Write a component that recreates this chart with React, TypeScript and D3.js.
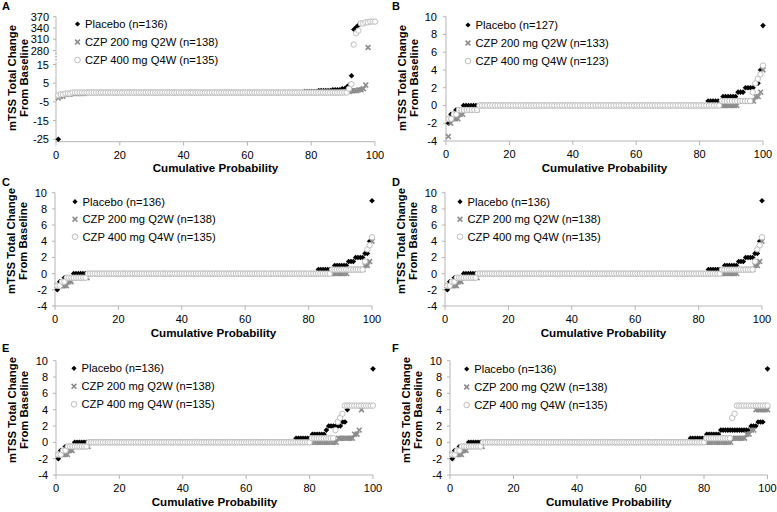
import React from 'react';
import * as d3 from 'd3';

type Run = [number | null, number];

const seriesLabels = ['Placebo', 'CZP 200 mg Q2W', 'CZP 400 mg Q4W'];
const panelIds = ['A', 'B', 'C', 'D', 'E', 'F'];
const panelNs = [
  [136, 138, 135],
  [127, 133, 123],
  [136, 138, 135],
  [136, 138, 135],
  [136, 138, 135],
  [136, 138, 135],
];
const xTicks = [0, 20, 40, 60, 80, 100];
const yTicksStd = [-4, -2, 0, 2, 4, 6, 8, 10];
const yTicksA = [-25, -15, -5, 5, 15, 280, 310, 340, 370];
const xTitle = 'Cumulative Probability';
const yTitle = ['mTSS Total Change', 'From Baseline'];

// run-length data: [mTSS change value, number of patients]; null = not plotted
const aPlacebo: Run[] = [[-25, 1], [-1, 2], [-0.5, 4], [0, 98], [0.5, 6], [1, 6], [1.5, 4], [2, 2], [3, 1], [4, 1], [9, 1], [336, 1], [342, 1], [348, 1], [352, 1], [null, 6]];
const aCzp200: Run[] = [[-3, 1], [-2, 2], [-1, 3], [-0.5, 6], [0, 111], [0.5, 4], [1, 3], [1.5, 2], [2, 1], [4, 1], [288, 1], [null, 3]];
const aCzp400: Run[] = [[-1.5, 1], [-1, 2], [-0.5, 3], [0, 117], [2, 1], [4.5, 1], [296, 1], [326, 1], [333, 1], [352, 2], [355, 2], [357, 3]];

const bPlacebo: Run[] = [[-2, 1], [-1, 2], [-0.5, 3], [0, 98], [0.5, 6], [1, 6], [1.5, 3], [2, 4], [2.5, 2], [4, 1], [9, 1]];
const bCzp200: Run[] = [[-3.5, 1], [-2, 1], [-1.5, 3], [-1, 2], [-0.5, 6], [0, 109], [0.5, 7], [1, 2], [1.5, 1], [4, 1]];
const bCzp400: Run[] = [[-1.5, 2], [-1, 2], [-0.5, 8], [0, 94], [0.5, 12], [1.5, 1], [2.5, 1], [3, 1], [3.5, 1], [4.5, 1]];

const cPlacebo: Run[] = [[-2, 1], [-1, 2], [-0.5, 4], [0, 105], [0.5, 7], [1, 6], [1.5, 3], [2, 4], [2.5, 2], [4, 1], [9, 1]];
const cCzp200: Run[] = [[-1.5, 5], [-1, 2], [-0.5, 7], [0, 113], [0.5, 7], [1, 2], [1.5, 1], [4, 1]];
const cCzp400: Run[] = [[-1.5, 2], [-1, 2], [-0.5, 9], [0, 104], [0.5, 14], [1.5, 1], [3, 1], [3.5, 1], [4.5, 1]];

const dPlacebo: Run[] = [[-2, 1], [-1, 2], [-0.5, 4], [0, 105], [0.5, 7], [1, 6], [1.5, 3], [2, 4], [2.5, 2], [4, 1], [9, 1]];
const dCzp200: Run[] = [[-1.5, 5], [-1, 2], [-0.5, 7], [0, 113], [0.5, 7], [1, 2], [1.5, 1], [4, 1]];
const dCzp400: Run[] = [[-1.5, 2], [-1, 2], [-0.5, 9], [0, 104], [0.5, 14], [1.5, 1], [3, 1], [3.5, 1], [4.5, 1]];

const ePlacebo: Run[] = [[-2, 1], [-1, 2], [-0.5, 4], [0, 95], [0.5, 7], [1, 6], [1.5, 1], [2, 6], [2.5, 2], [4, 1], [null, 10], [9, 1]];
const eCzp200: Run[] = [[-1.5, 5], [-1, 2], [-0.5, 7], [0, 108], [0.5, 7], [1, 2], [1.5, 1], [4, 1], [null, 5]];
const eCzp400: Run[] = [[-1.5, 2], [-1, 2], [-0.5, 9], [0, 95], [0.5, 10], [1.5, 1], [2.5, 1], [3, 1], [3.5, 1], [4.5, 13]];

const fPlacebo: Run[] = [[-2, 1], [-1, 2], [-0.5, 4], [0, 95], [0.5, 7], [1, 6], [1.5, 13], [2, 3], [2.5, 3], [null, 1], [9, 1]];
const fCzp200: Run[] = [[-1.5, 5], [-1, 2], [-0.5, 7], [0, 108], [0.5, 6], [1, 2], [1.5, 2], [4, 6]];
const fCzp400: Run[] = [[-1.5, 2], [-1, 2], [-0.5, 9], [0, 95], [0.5, 11], [3, 1], [3.5, 1], [4.5, 14]];

const panelData: Run[][][] = [
  [aPlacebo, aCzp200, aCzp400],
  [bPlacebo, bCzp200, bCzp400],
  [cPlacebo, cCzp200, cCzp400],
  [dPlacebo, dCzp200, dCzp400],
  [ePlacebo, eCzp200, eCzp400],
  [fPlacebo, fCzp200, fCzp400],
];

// layout (positions only)
const layouts = [
  { x0: 56, x1: 375, yDom: [-26.3, 15, 280, 370], yRng: [141.7, 64.5, 50.5, 16.7], ticks: yTicksA, lx: 77.5, ly: 24, ls: 18, letter: [2, 10], tY: 78, tickOff: 7 },
  { x0: 446, x1: 763, yDom: [-4, 10], yRng: [141, 16.7], ticks: yTicksStd, lx: 468, ly: 25, ls: 18, letter: [392, 10], tY: 78, tickOff: 9 },
  { x0: 55, x1: 372, yDom: [-4, 10], yRng: [306, 192.7], ticks: yTicksStd, lx: 75, ly: 201.7, ls: 17.5, letter: [2, 186], tY: 241, tickOff: 8 },
  { x0: 445, x1: 762, yDom: [-4, 10], yRng: [306, 192.7], ticks: yTicksStd, lx: 460, ly: 201.7, ls: 17.5, letter: [392, 186], tY: 241, tickOff: 8 },
  { x0: 56, x1: 373, yDom: [-4, 10], yRng: [475, 360.7], ticks: yTicksStd, lx: 74, ly: 368.3, ls: 18, letter: [2, 352], tY: 410, tickOff: 8 },
  { x0: 450, x1: 767.5, yDom: [-4, 10], yRng: [475, 360.7], ticks: yTicksStd, lx: 466.7, ly: 369, ls: 18, letter: [392, 352], tY: 410, tickOff: 8 },
];

const FONT = "'Liberation Sans', Arial, sans-serif";
const AXIS = '#b5b5b5';
const GRAY_X = '#8c8c8c';
const CIRCLE = '#bdbdbd';

function expand(runs: Run[], n: number) {
  const pts: { p: number; v: number }[] = [];
  let i = 0;
  for (const [v, c] of runs) {
    for (let k = 0; k < c; k++) {
      i++;
      if (v !== null) pts.push({ p: (i / n) * 100, v });
    }
  }
  return pts;
}

function Marker({ type, x, y, legend }: { type: number; x: number; y: number; legend?: boolean }) {
  if (type === 0) {
    const s = legend ? 2.6 : 2.8;
    return <path d={`M${x},${y - s}L${x + s},${y}L${x},${y + s}L${x - s},${y}Z`} fill="#000" />;
  }
  if (type === 1) {
    const s = 2.4;
    return (
      <path
        d={`M${x - s},${y - s}L${x + s},${y + s}M${x - s},${y + s}L${x + s},${y - s}`}
        stroke={GRAY_X}
        strokeWidth={1.6}
        fill="none"
      />
    );
  }
  return <circle cx={x} cy={y} r={legend ? 2.8 : 2.7} fill="#fff" stroke={CIRCLE} strokeWidth={1} />;
}

function Panel({ idx }: { idx: number }) {
  const L = layouts[idx];
  const x = d3.scaleLinear().domain([0, 100]).range([L.x0, L.x1]);
  const y = d3.scaleLinear().domain(L.yDom).range(L.yRng);
  const yBottom = L.yRng[0];
  const yTop = L.yRng[L.yRng.length - 1];
  const series = panelData[idx].map((runs, s) => expand(runs, panelNs[idx][s]));
  const broken = idx === 0;
  return (
    <g>
      <text x={L.letter[0]} y={L.letter[1]} fontFamily={FONT} fontWeight="bold" fontSize={11}>
        {panelIds[idx]}
      </text>
      {broken ? (
        <g>
          <line x1={L.x0} x2={L.x0} y1={yTop} y2={53} stroke={AXIS} />
          <line x1={L.x0} x2={L.x0} y1={53} y2={62} stroke="#777" strokeDasharray="1.5,1.5" />
          <line x1={L.x0} x2={L.x0} y1={62} y2={yBottom} stroke={AXIS} />
        </g>
      ) : (
        <line x1={L.x0} x2={L.x0} y1={yTop} y2={yBottom} stroke={AXIS} />
      )}
      {L.ticks.map((t) => (
        <g key={t}>
          <line x1={L.x0 - 3} x2={L.x0} y1={y(t)} y2={y(t)} stroke={AXIS} />
          <text
            x={L.x0 - L.tickOff}
            y={y(t)}
            textAnchor="end"
            dominantBaseline="central"
            fontFamily={FONT}
            fontSize={11}
          >
            {t}
          </text>
        </g>
      ))}
      <line x1={L.x0} x2={L.x1} y1={yBottom} y2={yBottom} stroke={AXIS} />
      {xTicks.map((t) => (
        <g key={t}>
          <line x1={x(t)} x2={x(t)} y1={yBottom} y2={yBottom + 4} stroke={AXIS} />
          <text x={x(t)} y={yBottom + 13} textAnchor="middle" dominantBaseline="central" fontFamily={FONT} fontSize={11}>
            {t}
          </text>
        </g>
      ))}
      <text
        x={(L.x0 + L.x1) / 2}
        y={yBottom + 26}
        textAnchor="middle"
        dominantBaseline="central"
        fontFamily={FONT}
        fontWeight="bold"
        fontSize={11.6}
      >
        {xTitle}
      </text>
      {yTitle.map((t, i) => (
        <text
          key={t}
          transform={`translate(${L.x0 - 44 + i * 12},${L.tY}) rotate(-90)`}
          textAnchor="middle"
          dominantBaseline="central"
          fontFamily={FONT}
          fontWeight="bold"
          fontSize={11.3}
        >
          {t}
        </text>
      ))}
      {series.map((pts, s) => (
        <g key={s}>
          {pts.map((d, k) => (
            <Marker key={k} type={s} x={x(d.p)} y={y(d.v)} />
          ))}
        </g>
      ))}
      {seriesLabels.map((lab, s) => (
        <g key={lab}>
          <Marker type={s} x={L.lx} y={L.ly + s * L.ls} legend />
          <text
            x={L.lx + 7.5}
            y={L.ly + s * L.ls}
            dominantBaseline="central"
            fontFamily={FONT}
            fontSize={11.2}
          >
            {`${lab} (n=${panelNs[idx][s]})`}
          </text>
        </g>
      ))}
    </g>
  );
}

export default function App() {
  return (
    <svg
      width={777}
      height={512}
      style={{ position: 'absolute', left: 0, top: 0, background: '#fff' }}
    >
      <rect width={777} height={512} fill="#fff" />
      {panelIds.map((_, i) => (
        <Panel key={i} idx={i} />
      ))}
    </svg>
  );
}
